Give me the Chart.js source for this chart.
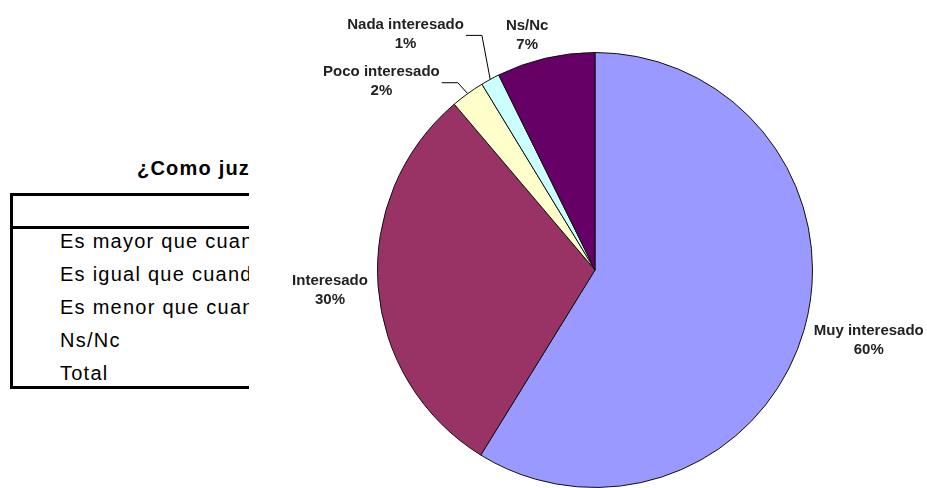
<!DOCTYPE html>
<html>
<head>
<meta charset="utf-8">
<script src="https://cdn.jsdelivr.net/npm/chart.js@4"></script>
<style>
  html, body { margin: 0; padding: 0; background: #fff; }
  body { width: 927px; height: 488px; position: relative; overflow: hidden; font-family: "Liberation Sans", Arial, sans-serif; }
  #tableClip { position: absolute; left: 0; top: 0; width: 249px; height: 488px; overflow: hidden; }
  #tblTitle { position: absolute; left: 137px; top: 157px; line-height: 22px; font-weight: bold; font-size: 20px; letter-spacing: 1.2px; white-space: nowrap; color: #000; }
  #tblBox { position: absolute; left: 10px; top: 193px; width: 400px; height: 190px; border-left: 3px solid #000; border-top: 3px solid #000; border-bottom: 3px solid #000; }
  #tblHead { position: absolute; left: 0; top: 30px; width: 100%; border-top: 3px solid #000; }
  #tblRows { position: absolute; left: 0; top: 29px; }
  .row { height: 33px; line-height: 33px; padding-left: 47px; font-size: 20px; letter-spacing: 1.25px; white-space: nowrap; color: #000; }
  #chartWrap { position: absolute; left: 0; top: 0; width: 927px; height: 488px; }
</style>
</head>
<body>
<div id="tableClip">
  <div id="tblTitle">¿Como juzga</div>
  <div id="tblBox">
    <div id="tblHead"></div>
    <div id="tblRows"></div>
  </div>
</div>
<div id="chartWrap"><canvas id="pieChart" width="927" height="488"></canvas></div>

<script>
// Pie data
const categories = ['Muy interesado', 'Interesado', 'Poco interesado', 'Nada interesado', 'Ns/Nc'];
const shares = [58.8, 30.0, 2.5, 1.4, 7.3];
const shareLabels = ['60%', '30%', '2%', '1%', '7%'];
const sliceColors = ['#9999ff', '#993366', '#ffffcc', '#ccffff', '#660066'];

// Table fragment on the left (clipped by the chart)
const tableRows = ['Es mayor que cuando', 'Es igual que cuando', 'Es menor que cuando', 'Ns/Nc', 'Total'];

tableRows.forEach(t => {
  const d = document.createElement('div');
  d.className = 'row';
  d.textContent = t;
  document.getElementById('tblRows').appendChild(d);
});

// label placement: angle (deg, clockwise from top) and distance as multiple of radius
const labelPlace = [
  { ang: 104.5, dist: 1.30, leader: false },
  { ang: 265.6, dist: 1.222, leader: false },
  { ang: 311.4, dist: 1.309, leader: true },
  { ang: 321.2, dist: 1.39, leader: true },
  { ang: 343.9, dist: 1.125, leader: false }
];

const pieLabels = {
  id: 'pieLabels',
  afterDatasetsDraw(chart) {
    const ctx = chart.ctx;
    const arcs = chart.getDatasetMeta(0).data;
    ctx.save();
    ctx.font = 'bold 15px "Liberation Sans", Arial, sans-serif';
    ctx.fillStyle = '#222';
    ctx.textAlign = 'center';
    ctx.textBaseline = 'middle';
    arcs.forEach((arc, i) => {
      const p = arc.getProps(['x', 'y', 'outerRadius', 'startAngle', 'endAngle']);
      const lp = labelPlace[i];
      const a = (lp.ang - 90) * Math.PI / 180;
      const lx = p.x + Math.cos(a) * p.outerRadius * lp.dist;
      const ly = p.y + Math.sin(a) * p.outerRadius * lp.dist;
      ctx.fillText(categories[i], lx, ly - 9.5);
      ctx.fillText(shareLabels[i], lx, ly + 9.5);
      if (lp.leader) {
        const w = ctx.measureText(categories[i]).width;
        const mid = (p.startAngle + p.endAngle) / 2;
        const ex = p.x + Math.cos(mid) * p.outerRadius;
        const ey = p.y + Math.sin(mid) * p.outerRadius;
        const sx = lx + w / 2 + 2;
        ctx.beginPath();
        ctx.strokeStyle = '#000';
        ctx.lineWidth = 1;
        ctx.moveTo(sx, ly + 1);
        ctx.lineTo(sx + 16, ly + 1);
        ctx.lineTo(ex, ey);
        ctx.stroke();
      }
    });
    ctx.restore();
  }
};

new Chart(document.getElementById('pieChart').getContext('2d'), {
  type: 'pie',
  data: {
    labels: categories,
    datasets: [{
      data: shares,
      backgroundColor: sliceColors,
      borderColor: '#111',
      borderWidth: 1
    }]
  },
  options: {
    responsive: false,
    animation: false,
    layout: { padding: { left: 377, right: 114, top: 52, bottom: 0 } },
    plugins: { legend: { display: false }, tooltip: { enabled: false } }
  },
  plugins: [pieLabels]
});
</script>
</body>
</html>
